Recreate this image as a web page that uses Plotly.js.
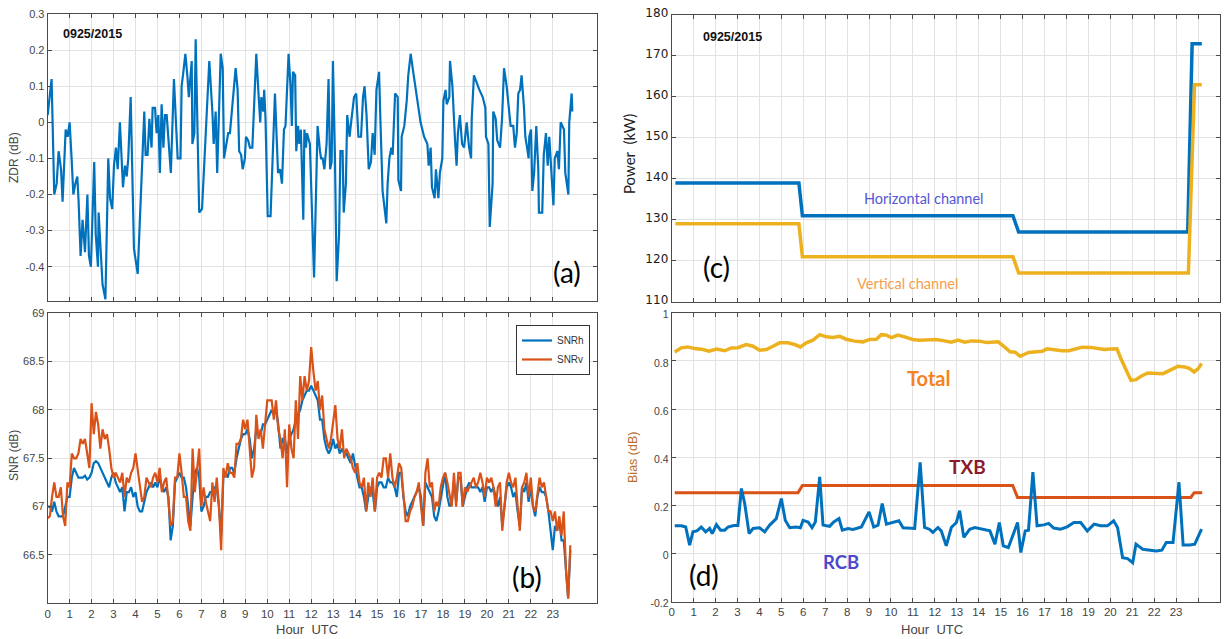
<!DOCTYPE html>
<html>
<head>
<meta charset="utf-8">
<script src="https://cdn.plot.ly/plotly-3.0.1.min.js"></script>
<style>html,body{margin:0;padding:0;background:#fff;}#chart{width:1225px;height:639px;}</style>
</head>
<body>
<div id="chart"></div>
<script>
// ---------- Panel (a): ZDR ----------
const zdrHour = [0.00,0.06,0.18,0.30,0.41,0.50,0.61,0.68,0.82,0.91,1.00,1.09,1.17,1.26,1.35,1.41,1.50,1.59,1.70,1.81,1.88,1.97,2.12,2.19,2.29,2.32,2.43,2.50,2.63,2.76,2.84,2.94,3.02,3.11,3.19,3.29,3.43,3.52,3.60,3.67,3.78,3.93,4.10,4.23,4.32,4.40,4.46,4.55,4.63,4.73,4.78,4.89,4.96,5.04,5.11,5.19,5.27,5.34,5.42,5.52,5.61,5.75,5.83,5.92,6.05,6.10,6.18,6.27,6.36,6.43,6.48,6.56,6.59,6.68,6.74,6.81,6.90,7.03,7.18,7.36,7.50,7.56,7.65,7.72,7.88,7.97,8.03,8.15,8.22,8.30,8.41,8.48,8.56,8.65,8.72,8.81,8.88,8.98,9.03,9.13,9.21,9.32,9.44,9.50,9.61,9.68,9.73,9.82,9.86,9.92,10.02,10.15,10.35,10.49,10.58,10.67,10.76,10.83,10.97,11.06,11.12,11.17,11.27,11.32,11.40,11.46,11.53,
11.64,11.69,11.76,11.81,11.94,12.13,12.29,12.40,12.45,12.52,12.60,12.70,12.79,12.86,12.93,12.99,13.08,13.16,13.27,13.33,13.43,13.48,13.58,13.64,13.75,13.80,13.95,14.05,14.15,14.27,14.36,14.43,14.52,14.62,14.72,14.80,14.89,14.97,15.09,15.15,15.25,15.42,15.48,15.56,15.65,15.71,15.82,15.94,15.97,16.09,16.12,16.24,16.35,16.42,16.53,16.62,16.73,16.83,16.98,17.14,17.29,17.35,17.44,17.50,17.62,17.68,17.79,17.86,17.97,18.02,18.12,18.17,18.29,18.32,18.43,18.55,18.62,18.68,18.77,18.87,18.96,19.08,19.19,19.28,19.31,19.41,19.53,19.66,19.81,19.93,19.96,20.07,20.13,20.26,20.29,20.40,20.47,20.60,20.69,20.78,20.90,20.98,21.08,21.20,21.28,21.36,21.43,21.51,21.58,21.69,21.75,21.83,21.90,21.93,22.01,22.07,22.15,22.25,22.34,22.37,22.52,22.59,22.69,22.77,22.84,23.03,23.09,23.21,23.28,23.36,23.51,23.57,23.71,23.75,23.86,23.89];
const zdrVal = [0.02,0.06,0.12,-0.2,-0.17,-0.08,-0.13,-0.22,-0.02,-0.04,0.0,-0.1,-0.2,-0.17,-0.15,-0.22,-0.37,-0.27,-0.36,-0.2,-0.37,-0.4,-0.11,-0.31,-0.4,-0.25,-0.36,-0.45,-0.49,-0.1,-0.21,-0.24,-0.12,-0.07,-0.13,0.0,-0.18,-0.12,-0.15,-0.1,0.07,-0.35,-0.42,-0.24,-0.09,0.03,-0.09,-0.09,0.01,-0.07,0.04,0.04,-0.03,0.02,-0.14,0.05,-0.07,0.02,0.02,-0.07,-0.14,0.12,0.02,-0.1,-0.1,0.1,0.14,0.19,0.13,0.07,0.11,0.17,-0.06,-0.03,0.23,0.02,-0.25,-0.24,-0.07,0.17,0.03,-0.06,0.03,-0.14,0.19,0.15,-0.1,-0.06,-0.03,-0.03,0.04,0.08,0.15,0.09,-0.08,-0.09,-0.13,-0.1,-0.04,-0.05,-0.07,-0.07,0.12,0.19,0.07,0.0,0.07,0.03,0.09,0.01,-0.26,-0.26,0.08,-0.14,-0.13,-0.17,-0.02,-0.01,0.19,0.1,-0.01,0.14,0.13,-0.08,-0.01,-0.06,-0.02,
-0.27,-0.02,-0.07,-0.03,-0.06,-0.43,-0.01,-0.08,-0.1,-0.1,-0.13,-0.06,0.12,-0.13,-0.11,0.17,-0.09,-0.44,-0.31,-0.08,-0.08,-0.25,-0.17,0.02,-0.04,-0.01,0.07,0.08,-0.04,-0.04,0.07,0.1,0.02,-0.13,-0.11,-0.03,-0.09,0.09,0.14,0.01,-0.19,-0.28,-0.17,-0.1,-0.07,-0.09,0.08,0.07,-0.16,-0.19,-0.04,-0.01,0.06,0.13,0.19,0.15,0.1,0.06,0.0,-0.04,-0.06,-0.12,-0.07,-0.18,-0.21,-0.13,-0.21,-0.14,-0.1,0.06,0.09,0.05,0.07,0.17,0.1,-0.05,-0.12,-0.03,0.02,-0.06,-0.07,0.0,-0.07,-0.1,0.01,0.13,0.11,0.09,0.07,0.04,-0.04,-0.06,-0.29,-0.17,0.03,0.01,-0.05,-0.07,0.01,0.15,0.1,0.04,-0.01,-0.01,-0.07,-0.03,0.08,0.09,0.13,0.04,-0.04,-0.07,-0.1,-0.04,-0.02,-0.19,-0.14,-0.01,-0.13,-0.25,-0.25,-0.09,-0.03,-0.12,-0.04,-0.23,-0.1,-0.08,-0.13,0.0,-0.02,-0.14,-0.2,0.0,0.08,0.03];
const zdrTickVals = [-0.4,-0.3,-0.2,-0.1,0,0.1,0.2,0.3];
const zdrTickText = ['-0.4','-0.3','-0.2','-0.1','0','0.1','0.2','0.3'];

// ---------- Panel (b): SNR ----------
const snrHour = [0.0,0.1,0.2,0.3,0.4,0.5,0.6,0.7,0.8,0.9,1.0,1.1,1.2,1.3,1.4,1.5,1.6,1.7,1.8,1.9,2.0,2.1,2.2,2.3,2.4,2.5,2.6,2.7,2.8,2.9,3.0,3.1,3.2,3.3,3.4,3.5,3.6,3.7,3.8,3.9,4.0,4.1,4.2,4.3,4.4,4.5,4.6,4.7,4.8,4.9,5.0,5.1,5.2,5.3,5.4,5.5,5.6,5.7,5.8,5.9,6.0,6.1,6.2,6.3,6.4,6.5,6.6,6.7,6.8,6.9,7.0,7.1,7.2,7.3,7.4,7.5,7.6,7.7,7.8,7.9,8.0,8.1,8.2,8.3,8.4,8.5,8.6,8.7,8.8,8.9,9.0,9.1,9.2,9.3,9.4,9.5,9.6,9.7,9.8,9.9,10.0,10.1,10.2,10.3,10.4,10.5,10.6,10.7,10.8,10.9,11.0,11.1,11.2,11.3,11.4,11.5,11.6,11.7,11.8,11.9,12.0,12.1,12.2,12.3,12.4,12.5,12.6,12.7,12.8,12.9,13.0,13.1,13.2,13.3,13.4,13.5,13.6,13.7,13.8,13.9,14.0,14.1,14.2,14.3,14.4,14.5,14.6,14.7,14.8,14.9,15.0,15.1,15.2,15.3,15.4,15.5,15.6,15.7,15.8,15.9,16.0,16.1,16.2,16.3,16.4,16.5,16.6,16.7,16.8,16.9,17.0,17.1,17.2,17.3,17.4,17.5,17.6,17.7,17.8,17.9,18.0,18.1,18.2,18.3,18.4,18.5,18.6,18.7,18.8,18.9,19.0,19.1,19.2,19.3,19.4,19.5,19.6,19.7,19.8,19.9,20.0,20.1,20.2,20.3,20.4,20.5,20.6,20.7,20.8,20.9,21.0,21.1,21.2,21.3,21.4,21.5,21.6,21.7,21.8,21.9,22.0,22.1,22.2,22.3,22.4,22.5,22.6,22.7,22.8,22.9,23.0,23.1,23.2,23.3,23.4,23.5,23.6,23.7,23.8];
const snrH = [67.0,67.0,66.95,67.05,66.95,66.9,66.9,66.9,67.0,67.1,
67.1,67.3,67.4,67.35,67.3,67.3,67.3,67.32,67.28,67.3,
67.35,67.45,67.47,67.45,67.4,67.35,67.3,67.25,67.2,67.3,
67.35,67.25,67.2,67.15,67.2,66.95,67.15,67.15,67.2,67.1,
67.15,67.0,66.95,66.95,67.05,67.15,67.2,67.25,67.2,67.25,
67.2,67.3,67.2,67.15,67.2,67.1,66.65,66.8,67.25,67.3,
67.35,67.3,67.3,67.2,67.0,66.8,67.1,67.35,67.4,67.3,
66.95,67.0,67.1,67.1,67.15,67.15,67.2,67.2,67.0,66.7,
67.3,67.35,67.3,67.4,67.4,67.35,67.5,67.6,67.7,67.75,
67.75,67.8,67.7,67.5,67.6,67.8,67.75,67.75,67.85,67.85,
67.9,67.95,68.0,67.95,68.0,67.85,67.6,67.7,67.7,67.55,
67.7,67.75,67.8,67.9,67.95,68.0,68.1,68.15,68.2,68.2,
68.25,68.2,68.15,68.1,67.9,67.9,67.7,67.6,67.55,67.6,
67.7,67.6,67.65,67.55,67.6,67.55,67.55,67.5,67.45,67.55,
67.4,67.3,67.2,67.2,67.1,66.95,67.1,67.2,67.15,66.95,
67.2,67.25,67.25,67.2,67.2,67.3,67.25,67.25,67.2,67.1,
67.35,67.35,67.1,66.95,66.9,67.0,67.05,67.1,67.15,67.2,
67.1,66.8,67.25,67.2,67.15,67.1,66.9,66.85,66.95,67.1,
67.2,67.35,67.1,67.0,67.05,67.25,67.05,67.3,67.3,67.0,
67.1,67.2,67.25,67.2,67.2,67.2,67.2,67.15,67.2,67.05,
67.2,67.2,67.15,67.2,67.1,67.0,67.1,66.8,67.0,67.2,
67.25,67.2,67.1,67.15,66.95,66.8,67.2,67.15,67.25,67.05,
67.2,67.0,66.9,67.1,67.2,67.15,67.15,67.1,66.95,66.75,
66.55,66.8,66.75,66.85,66.65,66.65,66.3,66.05,66.55];
const snrV = [66.88,66.9,67.1,67.25,67.1,67.1,67.2,66.9,66.8,67.25,
67.2,67.55,67.5,67.5,67.55,67.7,67.65,67.7,67.55,67.4,
68.07,67.75,67.98,67.85,67.6,67.8,67.7,67.75,67.6,67.4,
67.3,67.35,67.3,67.25,67.35,67.1,67.3,67.25,67.35,67.4,
67.55,67.4,67.2,67.05,67.1,67.3,67.25,67.2,67.3,67.35,
67.25,67.4,67.15,67.25,67.3,67.0,66.8,66.85,67.3,67.3,
67.55,67.35,67.1,67.1,66.85,66.75,67.6,67.15,67.35,67.6,
67.0,67.2,67.05,66.95,66.85,67.25,67.05,67.3,67.0,66.55,
67.4,67.3,67.45,67.35,67.35,67.3,67.65,67.65,67.7,67.9,
67.8,67.9,67.6,67.3,67.4,67.95,67.7,67.8,67.6,67.9,
68.1,68.1,68.1,67.9,68.1,67.8,67.7,67.5,67.8,67.2,
67.85,67.6,67.5,68.1,67.7,68.35,68.1,68.35,68.2,68.3,
68.65,68.4,68.2,68.3,68.0,68.15,67.8,67.7,67.6,67.7,
67.85,68.05,67.7,67.6,67.8,67.5,67.6,67.55,67.5,67.4,
67.35,67.45,67.25,67.2,67.3,66.95,67.25,67.1,67.3,66.95,
67.3,67.35,67.3,67.5,67.5,67.3,67.55,67.3,67.2,67.3,
67.45,67.4,67.1,66.85,66.85,66.95,67.0,67.1,67.15,67.25,
67.0,66.8,67.35,67.5,67.2,67.25,66.95,67.05,67.0,67.2,
67.3,67.35,67.25,67.1,67.0,67.35,67.0,67.35,67.35,67.0,
67.2,67.15,67.2,67.25,67.3,67.2,67.25,67.35,67.25,67.1,
67.3,67.25,67.3,67.2,67.0,67.2,67.25,66.75,67.0,67.25,
67.35,67.25,67.2,67.3,67.0,66.75,67.2,67.25,67.35,67.1,
67.3,67.0,66.95,67.15,67.3,67.2,67.25,67.1,66.95,66.95,
66.85,66.95,66.75,66.9,66.7,66.95,66.35,66.05,66.6];
const snrTickVals = [66.5,67,67.5,68,68.5,69];
const snrTickText = ['66.5','67','67.5','68','68.5','69'];

// ---------- Panel (c): transmitter power ----------
const powHHour = [0.17,5.80,5.96,15.56,15.82,23.53,23.73,24.17];
const powH     = [139,139,131,131,127,127,173,173];
const powVHour = [0.17,5.80,5.96,15.56,15.82,23.56,23.84,24.17];
const powV     = [129,129,121,121,117,117,163,163];
const powTickVals = [110,120,130,140,150,160,170,180];
const powTickText = ['110','120','130','140','150','160','170','180'];

// ---------- Panel (d): bias ----------
const totHour = [0.14,0.44,0.74,1.05,1.43,1.70,2.04,2.42,2.72,3.02,3.40,3.71,4.01,4.32,4.62,4.92,5.30,5.61,5.87,6.14,6.44,6.75,7.05,7.36,7.66,7.96,8.34,8.72,9.03,9.33,9.56,9.79,10.02,10.32,10.62,10.99,11.30,11.68,12.06,12.44,12.75,13.06,13.36,13.67,14.05,14.36,14.89,15.20,15.43,15.66,15.89,16.27,16.66,16.89,17.11,17.50,17.80,18.11,18.42,18.72,19.11,19.41,19.72,20.02,20.30,20.48,20.71,20.94,21.17,21.40,21.71,22.09,22.40,22.78,23.09,23.39,23.62,23.82,24.01,24.16];
const totVal = [0.837,0.854,0.858,0.851,0.847,0.84,0.849,0.842,0.854,0.855,0.868,0.861,0.844,0.847,0.861,0.875,0.875,0.868,0.858,0.875,0.886,0.909,0.9,0.897,0.902,0.89,0.882,0.879,0.889,0.89,0.909,0.907,0.897,0.907,0.9,0.889,0.886,0.889,0.889,0.883,0.878,0.886,0.878,0.883,0.882,0.876,0.879,0.856,0.838,0.836,0.819,0.835,0.838,0.84,0.85,0.844,0.842,0.842,0.85,0.857,0.856,0.853,0.847,0.849,0.85,0.81,0.761,0.719,0.722,0.736,0.75,0.747,0.747,0.764,0.778,0.775,0.768,0.754,0.768,0.789];
const txbHour = [0.14,5.76,5.96,15.55,15.77,23.67,23.82,24.19];
const txbVal  = [0.252,0.252,0.283,0.283,0.233,0.233,0.252,0.252];
const rcbHour = [0.14,0.44,0.64,0.82,0.97,1.15,1.35,1.55,1.73,1.85,2.04,2.23,2.42,2.57,2.83,3.02,3.18,3.33,3.53,3.71,4.01,4.24,4.47,4.77,5.0,5.18,5.38,5.68,5.87,5.99,6.22,6.40,6.55,6.75,6.90,7.20,7.39,7.63,7.78,8.04,8.27,8.65,9.0,9.21,9.41,9.6,9.79,10.09,10.36,10.55,10.85,11.08,11.33,11.53,11.75,11.91,12.14,12.29,12.52,12.75,12.98,13.13,13.32,13.59,13.82,14.13,14.51,14.74,14.94,15.12,15.35,15.58,15.77,15.92,16.12,16.27,16.47,16.66,16.97,17.19,17.42,17.73,18.03,18.34,18.65,18.95,19.26,19.56,19.87,20.15,20.33,20.56,20.79,21.02,21.17,21.48,21.79,22.09,22.35,22.55,22.86,23.13,23.32,23.62,23.85,24.16];
const rcbVal = [0.115,0.115,0.11,0.035,0.09,0.094,0.11,0.09,0.104,0.083,0.12,0.097,0.097,0.11,0.116,0.116,0.27,0.208,0.083,0.104,0.107,0.09,0.118,0.145,0.228,0.138,0.107,0.11,0.107,0.138,0.131,0.107,0.131,0.318,0.118,0.113,0.131,0.145,0.097,0.104,0.1,0.11,0.173,0.11,0.118,0.208,0.122,0.131,0.136,0.107,0.104,0.104,0.379,0.108,0.101,0.088,0.108,0.094,0.032,0.108,0.129,0.178,0.067,0.101,0.108,0.101,0.094,0.039,0.129,0.032,0.025,0.081,0.129,0.004,0.094,0.097,0.338,0.115,0.119,0.125,0.106,0.101,0.111,0.129,0.129,0.094,0.122,0.115,0.115,0.136,0.108,-0.017,-0.021,-0.038,0.039,0.018,0.014,0.011,0.014,0.046,0.046,0.296,0.035,0.035,0.039,0.101];
const biasTickVals = [-0.2,0,0.2,0.4,0.6,0.8,1];
const biasTickText = ['-0.2','0','0.2','0.4','0.6','0.8','1'];

// ---------- Hour ticks ----------
const hourTicksLeft = [0,1,2,3,4,5,6,7,8,9,10,11,12,13,14,15,16,17,18,19,20,21,22,23];
const hourTextLeft = ['0','1','2','3','4','5','6','7','8','9','10','11','12','13','14','15','16','17','18','19','20','21','22','23'];
const hourTicksRight = [0,1,2,3,4,5,6,7,8,9,10,11,12,13,14,15,16,17,18,19,20,21,22,23,24];
const hourTextRight = ['0','1','2','3','4','5','6','7','8','9','10','11','12','13','14','15','16','17','18','19','20','21','22','23',''];

const BLUE = '#0072BD', ORANGE = '#D95319', YELLOW = '#EDB120';

const traces = [
  {x: zdrHour, y: zdrVal, xaxis:'x', yaxis:'y', type:'scatter', mode:'lines', line:{color:BLUE, width:2.2}, showlegend:false, name:'ZDR'},
  {x: snrHour, y: snrH, xaxis:'x2', yaxis:'y2', type:'scatter', mode:'lines', line:{color:BLUE, width:2.2}, name:'SNRh'},
  {x: snrHour, y: snrV, xaxis:'x2', yaxis:'y2', type:'scatter', mode:'lines', line:{color:ORANGE, width:2.2}, name:'SNRv'},
  {x: powHHour, y: powH, xaxis:'x3', yaxis:'y3', type:'scatter', mode:'lines', line:{color:BLUE, width:3.5}, showlegend:false, name:'Horizontal channel'},
  {x: powVHour, y: powV, xaxis:'x3', yaxis:'y3', type:'scatter', mode:'lines', line:{color:YELLOW, width:3.5}, showlegend:false, name:'Vertical channel'},
  {x: totHour, y: totVal, xaxis:'x4', yaxis:'y4', type:'scatter', mode:'lines', line:{color:YELLOW, width:3.5}, showlegend:false, name:'Total'},
  {x: txbHour, y: txbVal, xaxis:'x4', yaxis:'y4', type:'scatter', mode:'lines', line:{color:ORANGE, width:3}, showlegend:false, name:'TXB'},
  {x: rcbHour, y: rcbVal, xaxis:'x4', yaxis:'y4', type:'scatter', mode:'lines', line:{color:BLUE, width:3}, showlegend:false, name:'RCB'}
];

const AX = {
  showline:true, linecolor:'#4a4a4a', linewidth:1, mirror:'ticks',
  ticks:'inside', ticklen:4, tickcolor:'#4a4a4a', tickwidth:1,
  showgrid:true, gridcolor:'#e2e2e2', gridwidth:1, zeroline:false,
  tickfont:{family:'Liberation Sans, Arial, sans-serif', size:11, color:'#444'}
};
const LX = [0.0389, 0.4871], RX = [0.5483, 0.9959];

function ann(text, x, y, font, extra) {
  return Object.assign({text:text, xref:'paper', yref:'paper', x:x, y:y, xanchor:'center', yanchor:'middle', showarrow:false, font:font}, extra || {});
}
const ARIAL = 'Liberation Sans, Arial, sans-serif', LATO = 'Lato, sans-serif';

const layout = {
  width:1225, height:639,
  margin:{l:0, r:0, t:0, b:0},
  paper_bgcolor:'#ffffff', plot_bgcolor:'#ffffff',
  font:{family:ARIAL, color:'#444'},
  xaxis: Object.assign({}, AX, {domain:LX, anchor:'y', range:[0,25], tickmode:'array', tickvals:hourTicksLeft, showticklabels:false}),
  yaxis: Object.assign({}, AX, {domain:[0.529,0.978], anchor:'x', range:[-0.495,0.3], tickmode:'array', tickvals:zdrTickVals, ticktext:zdrTickText}),
  xaxis2: Object.assign({}, AX, {domain:LX, anchor:'y2', range:[0,25], tickmode:'array', tickvals:hourTicksLeft, ticktext:hourTextLeft, tickfont:{family:ARIAL, size:11.5, color:'#444'}}),
  yaxis2: Object.assign({}, AX, {domain:[0.0559,0.5097], anchor:'x2', range:[66,69], tickmode:'array', tickvals:snrTickVals, ticktext:snrTickText}),
  xaxis3: Object.assign({}, AX, {domain:RX, anchor:'y3', range:[0,25], tickmode:'array', tickvals:hourTicksRight, showticklabels:false}),
  yaxis3: Object.assign({}, AX, {domain:[0.5279,0.9765], anchor:'x3', range:[110,180], tickmode:'array', tickvals:powTickVals, ticktext:powTickText, ticklabelshift:-2, tickfont:{family:'DejaVu Sans, sans-serif', size:12, color:'#1a1a1a'}}),
  xaxis4: Object.assign({}, AX, {domain:RX, anchor:'y4', range:[0,25], tickmode:'array', tickvals:hourTicksRight, ticktext:hourTextRight, tickfont:{family:ARIAL, size:11.5, color:'#444'}}),
  yaxis4: Object.assign({}, AX, {domain:[0.0584,0.5106], anchor:'x4', range:[-0.2,1], tickmode:'array', tickvals:biasTickVals, ticktext:biasTickText, ticklabelshift:2, tickfont:{family:ARIAL, size:10.5, color:'#444'}}),
  showlegend:true,
  legend:{x:0.4212, y:0.4914, xanchor:'left', yanchor:'top', bgcolor:'#ffffff', bordercolor:'#333', borderwidth:1,
          font:{family:ARIAL, size:10, color:'#333'}, tracegroupgap:0, itemwidth:30},
  annotations:[
    ann('<b>0925/2015</b>', 0.0755, 0.9468, {family:ARIAL, size:12.5, color:'#111'}),
    ann('<b>0925/2015</b>', 0.5976, 0.9421, {family:ARIAL, size:12.5, color:'#111'}),
    ann('(a)', 0.4629, 0.5743, {family:LATO, size:28, color:'#000'}),
    ann('(b)', 0.4306, 0.0970, {family:LATO, size:28, color:'#000'}),
    ann('(c)', 0.5845, 0.5822, {family:LATO, size:28, color:'#000'}),
    ann('(d)', 0.5743, 0.1002, {family:LATO, size:28, color:'#000'}),
    ann('Horizontal channel', 0.7539, 0.6886, {family:LATO, size:14.5, color:'#5656d6'}),
    ann('Vertical channel', 0.7408, 0.5571, {family:LATO, size:14.5, color:'#f59e4c'}),
    ann('<b>Total</b>', 0.7580, 0.4085, {family:LATO, size:20, color:'#f5821f'}),
    ann('<b>TXB</b>', 0.7902, 0.2707, {family:LATO, size:19, color:'#8b1a2e'}),
    ann('<b>RCB</b>', 0.6865, 0.1205, {family:LATO, size:18.5, color:'#4a4acb'}),
    ann('Hour\u00a0 UTC', 0.2506, 0.0156, {family:ARIAL, size:13, color:'#444'}),
    ann('Hour\u00a0 UTC', 0.7608, 0.0156, {family:ARIAL, size:13, color:'#444'}),
    ann('ZDR (dB)', 0.0114, 0.7543, {family:ARIAL, size:12, color:'#444'}, {textangle:-90}),
    ann('SNR (dB)', 0.0114, 0.2879, {family:ARIAL, size:12, color:'#444'}, {textangle:-90}),
    ann('Power\u00a0 (kW)', 0.5135, 0.7590, {family:LATO, size:15, color:'#222'}, {textangle:-90}),
    ann('Bias (dB)', 0.5167, 0.2848, {family:ARIAL, size:12.5, color:'#b8702e'}, {textangle:-90})
  ]
};

Plotly.newPlot('chart', traces, layout, {displayModeBar:false, staticPlot:true});
</script>
</body>
</html>
